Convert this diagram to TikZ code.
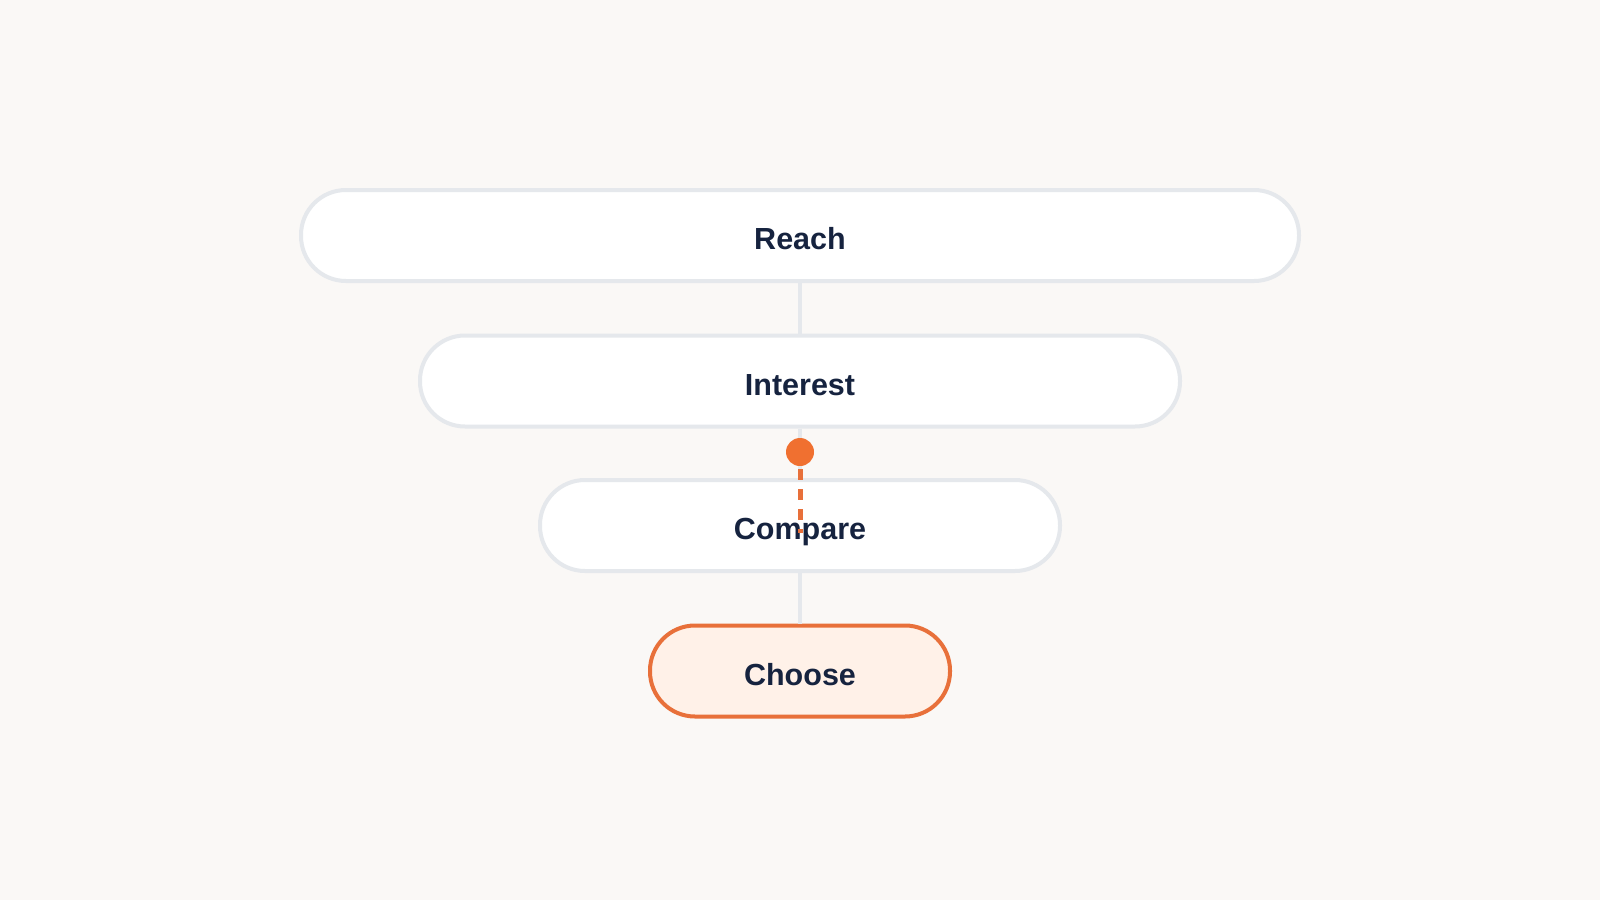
\documentclass[tikz,border=0pt]{standalone}
\usepackage{fontspec}
\setmainfont{Liberation Sans}
\definecolor{bgc}{HTML}{FAF8F6}
\definecolor{edgegray}{HTML}{E5E8EC}
\definecolor{navy}{HTML}{16233F}
\definecolor{orangec}{HTML}{E8703A}
\definecolor{dotc}{HTML}{F07030}
\definecolor{choosefill}{HTML}{FFF1E8}
\tikzset{
  stage/.style={draw=edgegray, line width=4pt, fill=white, rounded corners=45pt,
    minimum height=91pt, inner sep=0pt, text=navy, text height=28pt, text depth=0pt,
    font=\fontsize{30.5}{36}\selectfont\bfseries},
  chosen/.style={stage, draw=orangec, fill=choosefill},
  link/.style={draw=edgegray, line width=4pt},
  progress/.style={draw=orangec, line width=5pt, dash pattern=on 11pt off 9pt, shorten <=3pt},
}
\begin{document}
\begin{tikzpicture}[x=1pt,y=-1pt]
\fill[bgc] (0,0) rectangle (1600,900);
\useasboundingbox (0,0) rectangle (1600,900);
\node[stage, minimum width=998pt] (reach) at (800,235.5) {Reach};
\node[stage, minimum width=760pt] (interest) at (800,381) {Interest};
\node[stage, minimum width=520pt] (compare) at (800,525.5) {Compare};
\node[chosen, minimum width=300pt] (choose) at (800,671) {Choose};
\draw[link] (reach.south) -- (interest.north);
\draw[link] (interest.south) -- (compare.north);
\draw[link] (compare.south) -- (choose.north);
\coordinate (tip) at (800,533);
\node[circle, fill=dotc, minimum size=28pt, inner sep=0pt] (dot) at (800,452) {};
\draw[progress] (dot.south) -- (tip);
\end{tikzpicture}
\end{document}
